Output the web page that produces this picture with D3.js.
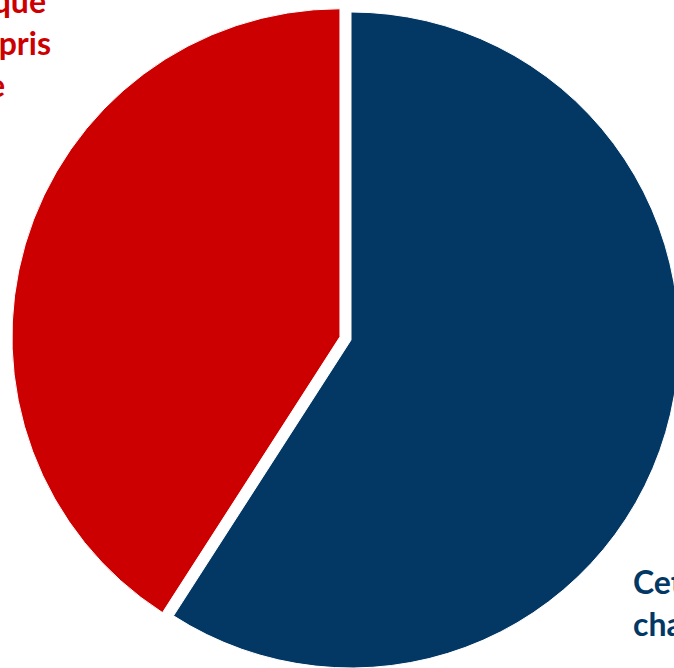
<!DOCTYPE html>
<html>
<head>
<meta charset="utf-8">
<script src="https://cdn.jsdelivr.net/npm/d3@7"></script>
<style>
  body { margin: 0; background: #fff; overflow: hidden; }
  svg { display: block; }
</style>
</head>
<body>
<div id="chart"></div>
<script>
// pie data (shares in %)
var categories = ["Cette part chargée", "Risque compris"]
var values = [59.1, 40.9]
var colors = ["#033865", "#CC0000"]
var explode = [0, 11.5]

// label lines (cut off by the frame in the original)
var labelLines = [
  ["Cette part", "chargée"],
  ["Sans risque", "Y compris", "le"]
]

var width = 674, height = 668
var cx = 351, cy = 340, radius = 328

var svg = d3.select("#chart")
  .append("svg")
  .attr("width", width)
  .attr("height", height)

var pie = d3.pie().sort(null).value(d => d)
var arc = d3.arc().innerRadius(0).outerRadius(radius)

var arcs = pie(values)

var g = svg.append("g")
  .attr("transform", "translate(" + cx + "," + cy + ")")

g.selectAll("path")
  .data(arcs)
  .enter()
  .append("path")
  .attr("d", arc)
  .attr("fill", (d, i) => colors[i])
  .attr("stroke", "#fff")
  .attr("stroke-width", 1)
  .attr("transform", (d, i) => {
    var mid = (d.startAngle + d.endAngle) / 2
    return "translate(" + (Math.sin(mid) * explode[i]) + "," + (-Math.cos(mid) * explode[i]) + ")"
  })

// blue label, bottom right
var blueLbl = svg.append("text")
  .attr("font-family", "Lato, 'Open Sans', sans-serif")
  .attr("font-weight", "bold")
  .attr("font-size", 32)
  .attr("fill", colors[0])
blueLbl.selectAll("tspan")
  .data(labelLines[0])
  .enter()
  .append("tspan")
  .attr("x", 633)
  .attr("y", (d, i) => 594 + i * 42)
  .text(d => d)

// red label, top left (right-aligned line ends)
var redEnds = [46, 51, 5]
var redLbl = svg.append("text")
  .attr("font-family", "Lato, 'Open Sans', sans-serif")
  .attr("font-weight", "bold")
  .attr("font-size", 32)
  .attr("fill", colors[1])
  .attr("text-anchor", "end")
redLbl.selectAll("tspan")
  .data(labelLines[1])
  .enter()
  .append("tspan")
  .attr("x", (d, i) => redEnds[i])
  .attr("y", (d, i) => 13 + i * 42)
  .text(d => d)
</script>
</body>
</html>
